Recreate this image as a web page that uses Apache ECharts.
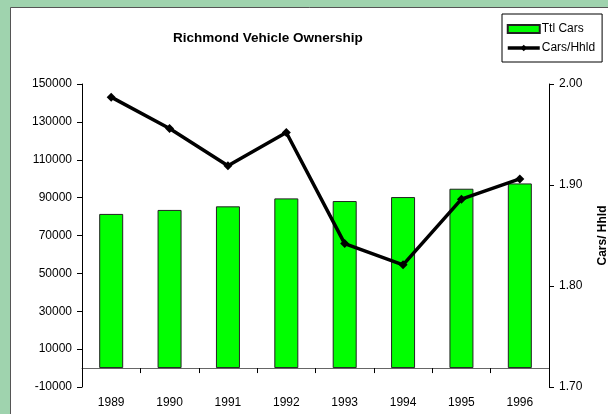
<!DOCTYPE html>
<html>
<head>
<meta charset="utf-8">
<script src="https://cdn.jsdelivr.net/npm/echarts@6/dist/echarts.min.js"></script>
<style>
  html, body { margin: 0; padding: 0; background: #9fd3ae; }
  #chart { width: 608px; height: 414px; }
</style>
</head>
<body>
<div id="chart"></div>
<script>
// data
const years = ['1989', '1990', '1991', '1992', '1993', '1994', '1995', '1996']
const totalCars = [81400, 83500, 85400, 89600, 88200, 90300, 94700, 97500]
const carsPerHhld = [1.987, 1.956, 1.919, 1.952, 1.842, 1.821, 1.886, 1.906]

const font = 'Arial, "Liberation Sans", sans-serif'

const chart = echarts.init(document.getElementById('chart'))

chart.setOption({
  backgroundColor: '#9fd3ae',
  animation: false,
  textStyle: { fontFamily: font },
  graphic: [{
    type: 'rect',
    z: -10,
    shape: { x: 10.5, y: 7.5, width: 610, height: 420 },
    style: { fill: '#fff', stroke: '#555', lineWidth: 1 }
  }],
  title: {
    text: 'Richmond Vehicle Ownership',
    left: 168,
    top: 26,
    textStyle: { fontFamily: font, fontSize: 13.5, fontWeight: 'bold', color: '#000' }
  },
  legend: {
    orient: 'vertical',
    left: 502,
    top: 14,
    padding: [9, 7, 8, 4],
    itemGap: 7,
    itemWidth: 32,
    itemHeight: 8,
    borderColor: '#000',
    borderWidth: 1,
    backgroundColor: '#fff',
    textStyle: { fontFamily: font, fontSize: 12, color: '#000', padding: [0, 0, 0, -3] },
    data: [
      { name: 'Ttl Cars', icon: 'rect' },
      { name: 'Cars/Hhld', lineStyle: { width: 3.5 } }
    ]
  },
  grid: { left: 82, right: 59, top: 84, bottom: 27, outerBoundsMode: 'none', containLabel: false },
  xAxis: {
    type: 'category',
    data: years,
    axisLine: { onZero: true, lineStyle: { color: '#666', width: 1 } },
    axisTick: { show: true, alignWithLabel: false, length: 5, lineStyle: { color: '#000' } },
    axisLabel: { color: '#000', fontSize: 12, margin: 10 }
  },
  yAxis: [
    {
      type: 'value',
      min: -10000,
      max: 150000,
      interval: 20000,
      splitLine: { show: false },
      axisLine: { show: true, lineStyle: { color: '#000' } },
      axisTick: { show: true, length: 5, lineStyle: { color: '#000' } },
      axisLabel: { color: '#000', fontSize: 12, margin: 10, formatter: v => String(v) }
    },
    {
      type: 'value',
      min: 1.7,
      max: 2.0,
      interval: 0.1,
      position: 'right',
      splitLine: { show: false },
      name: 'Cars/ Hhld',
      nameLocation: 'middle',
      nameRotate: 90,
      nameGap: 48,
      nameTextStyle: { fontFamily: font, fontSize: 12, fontWeight: 'bold', color: '#000' },
      axisLine: { show: true, lineStyle: { color: '#000' } },
      axisTick: { show: true, length: 5, lineStyle: { color: '#000' } },
      axisLabel: { color: '#000', fontSize: 12, margin: 10, formatter: v => v.toFixed(2) }
    }
  ],
  series: [
    {
      name: 'Ttl Cars',
      type: 'bar',
      data: totalCars,
      barWidth: 24,
      itemStyle: { color: '#00ff00', borderColor: '#222', borderWidth: 1 }
    },
    {
      name: 'Cars/Hhld',
      type: 'line',
      yAxisIndex: 1,
      data: carsPerHhld,
      symbol: 'diamond',
      symbolSize: 9,
      lineStyle: { color: '#000', width: 3.5 },
      itemStyle: { color: '#000' }
    }
  ]
})
</script>
</body>
</html>
